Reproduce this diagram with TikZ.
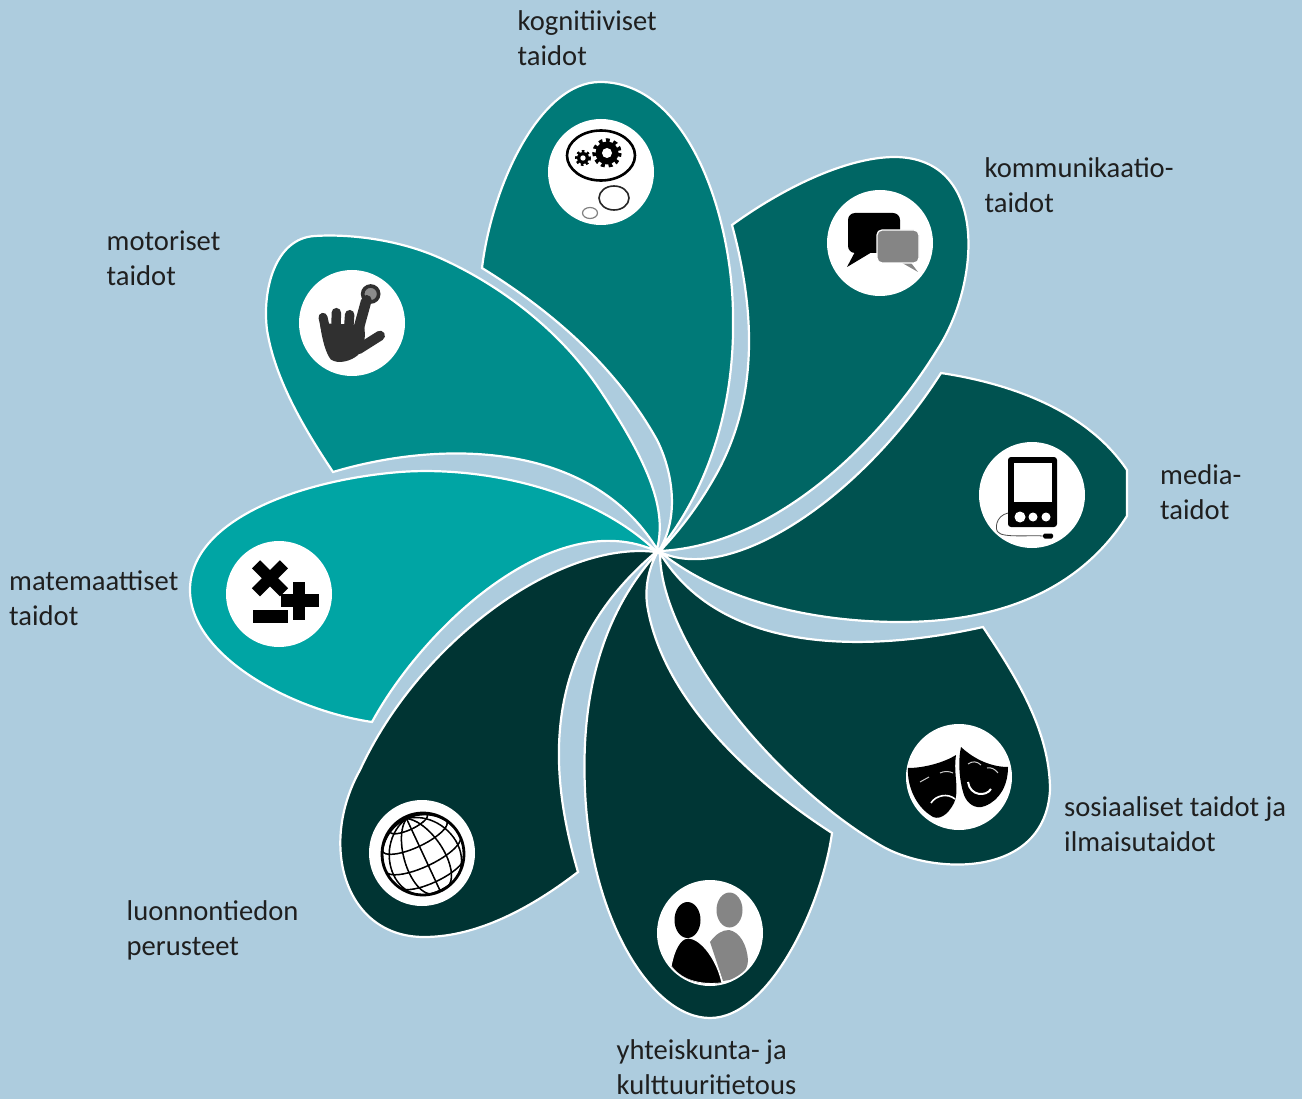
\documentclass[tikz,border=0pt]{standalone}
\usepackage{fontspec}
\setmainfont{Carlito}
\definecolor{bgc}{HTML}{ADCCDE}
\definecolor{pa}{HTML}{007A78}
\definecolor{pb}{HTML}{006664}
\definecolor{pc}{HTML}{005250}
\definecolor{pd}{HTML}{003F3E}
\definecolor{pe}{HTML}{003635}
\definecolor{pf}{HTML}{003433}
\definecolor{pg}{HTML}{00A5A4}
\definecolor{ph}{HTML}{008D8C}
\definecolor{txt}{HTML}{1F1F1F}
\definecolor{hnd}{HTML}{303030}
\tikzset{
 petal/.style={draw=white,line width=2.2pt,line join=miter,fill=#1},
 disc/.style={circle,fill=white,minimum size=106pt,inner sep=0pt},
 lab/.style={anchor=north west,inner sep=0pt,align=left,text=txt,font=\fontsize{28.6}{35}\selectfont},
}
\newcommand\gpt[2]{%
 \pgfmathsetmacro\gX{cos(#1)*sin(#2)}%
 \pgfmathsetmacro\gY{sin(#1)*cos(18)-cos(#1)*cos(#2)*sin(18)}%
 \pgfmathsetmacro\gZ{sin(#1)*sin(18)+cos(#1)*cos(#2)*cos(18)}%
 \pgfmathsetmacro\gU{41*(\gX*cos(25)-\gY*sin(25))}%
 \pgfmathsetmacro\gV{-41*(\gX*sin(25)+\gY*cos(25))}%
}
\begin{document}
\begin{tikzpicture}[x=1pt,y=-1pt]
\useasboundingbox (0,0) rectangle (1302,1099);
\fill[bgc] (0,0) rectangle (1302,1099);
\coordinate (c) at (659,551);
% petals
\draw[petal=pa] (660,549) .. controls (700,500) and (735,420) .. (733,317) .. controls (733,220) and (690,82) .. (600,82) .. controls (540,82) and (492,185) .. (482,268) .. controls (550,310) and (615,365) .. (657,440) .. controls (672,470) and (680,515) .. (660,549) -- cycle;
\draw[petal=pb] (660,551) .. controls (780,545) and (885,435) .. (937,350) .. controls (980,285) and (990,158) .. (895,157) .. controls (845,157) and (780,190) .. (732,225) .. controls (755,310) and (760,400) .. (713,480) .. controls (698,506) and (680,530) .. (660,551) -- cycle;
\draw[petal=pc] (660,552) .. controls (730,585) and (860,500) .. (941,373) .. controls (1020,385) and (1090,415) .. (1127,470) -- (1127,516) .. controls (1080,590) and (1000,622) .. (900,622) .. controls (810,622) and (720,600) .. (660,552) -- cycle;
\draw[petal=pd] (660,553) .. controls (660,640) and (770,780) .. (880,845) .. controls (930,875) and (1045,880) .. (1050,790) .. controls (1050,730) and (1015,675) .. (983,627) .. controls (880,650) and (725,660) .. (660,553) -- cycle;
\draw[petal=pe] (657,553) .. controls (610,605) and (580,680) .. (585,790) .. controls (590,915) and (650,1018) .. (710,1018) .. controls (770,1018) and (822,905) .. (832,833) .. controls (750,780) and (665,700) .. (648,610) .. controls (644,590) and (648,570) .. (657,553) -- cycle;
\draw[petal=pf] (656,552) .. controls (560,540) and (420,640) .. (360,770) .. controls (318,845) and (345,937) .. (424,937) .. controls (480,937) and (535,905) .. (578,872) .. controls (548,770) and (540,650) .. (656,552) -- cycle;
\draw[petal=pg] (656,551) .. controls (590,488) and (480,466) .. (400,472) .. controls (300,480) and (190,520) .. (190,590) .. controls (190,655) and (290,710) .. (372,722) .. controls (425,625) and (555,505) .. (656,551) -- cycle;
\draw[petal=ph] (657,549) .. controls (667,510) and (650,465) .. (600,390) .. controls (560,330) and (500,285) .. (440,258) .. controls (395,238) and (345,234) .. (315,236) .. controls (275,238) and (262,290) .. (267,330) .. controls (275,380) and (305,430) .. (333,472) .. controls (440,440) and (590,440) .. (657,549) -- cycle;
\fill[white] (c) circle (3.5);
% discs
\node[disc] (d1) at (601,172) {};
\node[disc] (d2) at (880,243) {};
\node[disc] (d3) at (1032,495) {};
\node[disc] (d4) at (959,777) {};
\node[disc] (d5) at (710,933) {};
\node[disc] (d6) at (422,853) {};
\node[disc] (d7) at (279,594) {};
\node[disc] (d8) at (352,323) {};
% icon 1: thought gears
\draw[line width=2.6pt,black] (601,155.5) ellipse (34 and 25);
\fill[black] (607,153) circle (11.5);
\draw[black,line width=4.5pt,dash pattern=on 3.6pt off 3.6pt] (607,153) circle (12.5);
\fill[white] (607,153) circle (5);
\fill[black] (583,158) circle (6);
\draw[black,line width=3pt,dash pattern=on 2.4pt off 2.5pt] (583,158) circle (6.5);
\fill[white] (583,158) circle (2.7);
\draw[line width=1.6pt,black!85] (614,198) ellipse (15 and 12);
\draw[line width=1.2pt,black!50] (590,213) ellipse (7.5 and 5.5);
% icon 2: speech bubbles
\fill[black,rounded corners=7pt] (848,213) rectangle (900,253);
\fill[black] (856,250) -- (847,267) -- (872,252) -- cycle;
\fill[black!48] (905,255) -- (918,272) -- (897,260) -- cycle;
\draw[white,line width=1.3pt,fill=black!48,rounded corners=5pt] (877,230) rectangle (919,263);
% icon 3: media player
\fill[black,rounded corners=3pt] (1008,457) rectangle (1057,527);
\fill[white] (1014,463) rectangle (1052,502);
\foreach \xx/\rr in {1020/5.5,1033/4.5,1046/4.5} \fill[white] (\xx,517) circle (\rr);
\draw[black!70,line width=0.8pt] (1008,513) .. controls (995,516) and (995,530) .. (998,532) .. controls (1002,538) and (1030,535) .. (1043,536);
\fill[black,rounded corners=1.5pt] (1043,533.5) rectangle (1053,538.5);
% icon 4: masks
\fill[black] (908,768) .. controls (925,768) and (945,762) .. (956,755) .. controls (953,775) and (960,790) .. (954,803) .. controls (948,815) and (938,822) .. (930,815) .. controls (915,805) and (907,785) .. (908,768) -- cycle;
\fill[black] (961,747) .. controls (975,760) and (992,767) .. (1008,767) .. controls (1008,785) and (1000,800) .. (985,806) .. controls (975,810) and (967,803) .. (964,795) .. controls (959,780) and (958,760) .. (961,747) -- cycle;
\draw[white,line width=1.6pt] (931,803) .. controls (936,795) and (948,793) .. (955,799);
\draw[white!80!black,line width=1pt] (920,782) -- (929,777);
\draw[white!80!black,line width=1pt] (940,773) .. controls (944,771) and (949,771) .. (953,773);
\draw[white,line width=2pt] (968,782) .. controls (970,796) and (986,797) .. (991,789);
\draw[white!80!black,line width=1pt] (968,764) .. controls (972,761) and (977,761) .. (981,765);
\draw[white!80!black,line width=1pt] (987,768) .. controls (991,767) and (995,769) .. (998,773);
% icon 5: people
\begin{scope}
\clip (710,933) circle (51);
\fill[black!48] (729.5,910) ellipse (13 and 17.5);
\fill[black!48] (710,942) .. controls (716,934) and (722,930) .. (729,930) .. controls (740,932) and (747,945) .. (748,960) .. controls (748,972) and (738,978) .. (729,980) -- (723,981) -- cycle;
\draw[white,line width=1.2pt,fill=black] (671,966) .. controls (674,950) and (680,938) .. (688,938) .. controls (702,938) and (718,962) .. (722,983) .. controls (705,985) and (683,983) .. (671,966) -- cycle;
\fill[black] (687.5,920) ellipse (13 and 18);
\end{scope}
% icon 6: globe
\begin{scope}[shift={(423,854)}]
\foreach \lam in {0,30,...,330}{%
 \foreach \ph in {-90,-84,...,84}{%
  \gpt{\ph}{\lam}%
  \ifdim \gZ pt>0pt
   \let\pu\gU \let\pv\gV
   \pgfmathsetmacro\phn{\ph+6}%
   \gpt{\phn}{\lam}%
   \draw[black,line width=1.5pt,line cap=round] (\pu,\pv) -- (\gU,\gV);
  \fi
 }%
}
\foreach \ph in {-60,-30,0,30,60}{%
 \foreach \lam in {0,8,...,352}{%
  \gpt{\ph}{\lam}%
  \ifdim \gZ pt>0pt
   \let\pu\gU \let\pv\gV
   \pgfmathsetmacro\lan{\lam+8}%
   \gpt{\ph}{\lan}%
   \draw[black,line width=1.5pt,line cap=round] (\pu,\pv) -- (\gU,\gV);
  \fi
 }%
}
\draw[black,line width=2.8pt] (0,0) circle (41);
\end{scope}
% icon 7: math symbols
\begin{scope}[shift={(220,270)},scale=1/3]
\draw[black,line width=11.5pt] (108,883) -- (192,967);
\draw[black,line width=11.5pt] (192,883) -- (108,967);
\fill[black] (220,935) rectangle (256,1050);
\fill[black] (183,972) rectangle (298,1010);
\fill[black] (100,1020) rectangle (205,1058);
\end{scope}
% icon 8: hand
\begin{scope}[shift={(220,270)},scale=1/3]
\fill[hnd] (300,160) -- (432,165) .. controls (438,200) and (434,230) .. (414,255) .. controls (395,272) and (355,285) .. (332,268) .. controls (318,250) and (306,210) .. (300,160) -- cycle;
\draw[hnd,line width=9pt,line cap=round] (322,200) -- (309,142);
\draw[hnd,line width=9.5pt,line cap=round] (348,190) -- (349,128);
\draw[hnd,line width=9.5pt,line cap=round] (385,190) -- (389,134);
\draw[hnd,line width=10.5pt,line cap=round] (412,190) -- (438,95);
\draw[hnd,line width=10pt,line cap=round] (415,238) -- (480,197);
\fill[black!45] (452,75) circle (24);
\draw[hnd,line width=3.6pt] (452,72) circle (24);
\fill[hnd] (440,90) circle (15);
\end{scope}
% labels
\node[lab] (l1) at (517.5,10) {kognitiiviset\\taidot};
\node[lab] (l2) at (984.5,157) {kommunikaatio-\\taidot};
\node[lab] (l3) at (1160,464) {media-\\taidot};
\node[lab] (l4) at (1064,796) {sosiaaliset taidot ja\\ilmaisutaidot};
\node[lab] (l5) at (616.5,1039) {yhteiskunta- ja\\kulttuuritietous};
\node[lab] (l6) at (126.5,900) {luonnontiedon\\perusteet};
\node[lab] (l7) at (9,571) {matemaattiset\\taidot};
\node[lab] (l8) at (106.5,231) {motoriset\\taidot};
\end{tikzpicture}
\end{document}
